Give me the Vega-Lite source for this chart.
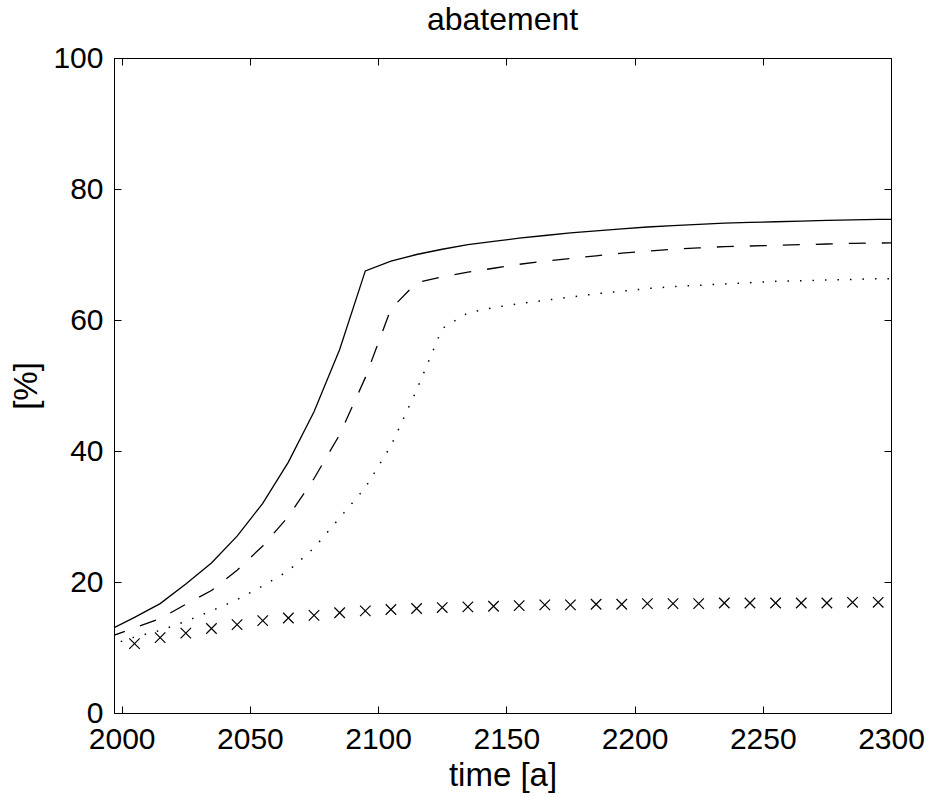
{
  "$schema": "https://vega.github.io/schema/vega-lite/v6.json",
  "width": 777,
  "height": 655,
  "autosize": "none",
  "padding": {"left": 114, "top": 58, "right": 41, "bottom": 84},
  "config": {
    "font": "Liberation Sans",
    "view": {"stroke": "black", "strokeWidth": 1},
    "axis": {
      "domainColor": "black", "tickColor": "black", "labelColor": "black", "titleColor": "black",
      "labelFont": "Liberation Sans", "titleFont": "Liberation Sans",
      "labelFontSize": 30, "titleFontSize": 33, "titleFontWeight": "normal",
      "grid": false, "tickSize": -7, "domainWidth": 1, "tickWidth": 1
    }
  },
  "title": {"text": "abatement", "fontSize": 32, "fontWeight": "normal", "font": "Liberation Sans", "color": "black", "baseline": "alphabetic", "frame": "group", "offset": 10, "dy": 29},
  "datasets": {
    "solid": [
      {"year": 1995, "value": 12.6}, {"year": 2005, "value": 14.6}, {"year": 2015, "value": 16.7}, {"year": 2025, "value": 19.7},
      {"year": 2035, "value": 22.9}, {"year": 2045, "value": 27.0}, {"year": 2055, "value": 32.0}, {"year": 2065, "value": 38.3},
      {"year": 2075, "value": 46.0}, {"year": 2085, "value": 55.5}, {"year": 2095, "value": 67.5}, {"year": 2105, "value": 69.0},
      {"year": 2115, "value": 70.0}, {"year": 2125, "value": 70.8}, {"year": 2135, "value": 71.5}, {"year": 2145, "value": 72.0},
      {"year": 2155, "value": 72.5}, {"year": 2165, "value": 72.9}, {"year": 2175, "value": 73.3}, {"year": 2185, "value": 73.6},
      {"year": 2195, "value": 73.9}, {"year": 2205, "value": 74.2}, {"year": 2215, "value": 74.4}, {"year": 2225, "value": 74.6},
      {"year": 2235, "value": 74.8}, {"year": 2245, "value": 74.9}, {"year": 2255, "value": 75.0}, {"year": 2265, "value": 75.1},
      {"year": 2275, "value": 75.2}, {"year": 2285, "value": 75.3}, {"year": 2295, "value": 75.35}, {"year": 2305, "value": 75.4}
    ],
    "dashed": [
      {"year": 1995, "value": 11.6}, {"year": 2005, "value": 13.0}, {"year": 2015, "value": 14.4}, {"year": 2025, "value": 16.6},
      {"year": 2035, "value": 18.7}, {"year": 2045, "value": 21.8}, {"year": 2055, "value": 25.5}, {"year": 2065, "value": 30.0},
      {"year": 2075, "value": 35.8}, {"year": 2085, "value": 42.5}, {"year": 2095, "value": 51.2}, {"year": 2105, "value": 61.7},
      {"year": 2115, "value": 65.7}, {"year": 2125, "value": 66.6}, {"year": 2135, "value": 67.3}, {"year": 2145, "value": 67.9},
      {"year": 2155, "value": 68.5}, {"year": 2165, "value": 69.0}, {"year": 2175, "value": 69.4}, {"year": 2185, "value": 69.8},
      {"year": 2195, "value": 70.2}, {"year": 2205, "value": 70.5}, {"year": 2215, "value": 70.8}, {"year": 2225, "value": 71.0},
      {"year": 2235, "value": 71.2}, {"year": 2245, "value": 71.3}, {"year": 2255, "value": 71.4}, {"year": 2265, "value": 71.5},
      {"year": 2275, "value": 71.6}, {"year": 2285, "value": 71.7}, {"year": 2295, "value": 71.75}, {"year": 2305, "value": 71.8}
    ],
    "dotted": [
      {"year": 1995, "value": 10.3}, {"year": 2005, "value": 11.6}, {"year": 2015, "value": 12.6}, {"year": 2025, "value": 14.0},
      {"year": 2035, "value": 15.6}, {"year": 2045, "value": 17.3}, {"year": 2055, "value": 19.4}, {"year": 2065, "value": 21.7},
      {"year": 2075, "value": 25.2}, {"year": 2085, "value": 29.8}, {"year": 2095, "value": 34.4}, {"year": 2105, "value": 40.8},
      {"year": 2115, "value": 49.3}, {"year": 2125, "value": 58.7}, {"year": 2135, "value": 61.1}, {"year": 2145, "value": 61.9},
      {"year": 2155, "value": 62.5}, {"year": 2165, "value": 63.0}, {"year": 2175, "value": 63.5}, {"year": 2185, "value": 64.0},
      {"year": 2195, "value": 64.4}, {"year": 2205, "value": 64.8}, {"year": 2215, "value": 65.1}, {"year": 2225, "value": 65.3},
      {"year": 2235, "value": 65.5}, {"year": 2245, "value": 65.7}, {"year": 2255, "value": 65.9}, {"year": 2265, "value": 66.0},
      {"year": 2275, "value": 66.1}, {"year": 2285, "value": 66.2}, {"year": 2295, "value": 66.3}, {"year": 2305, "value": 66.3}
    ],
    "crosses": [
      {"year": 2005, "value": 10.6}, {"year": 2015, "value": 11.5}, {"year": 2025, "value": 12.2}, {"year": 2035, "value": 12.9},
      {"year": 2045, "value": 13.5}, {"year": 2055, "value": 14.1}, {"year": 2065, "value": 14.5}, {"year": 2075, "value": 14.9},
      {"year": 2085, "value": 15.3}, {"year": 2095, "value": 15.6}, {"year": 2105, "value": 15.8}, {"year": 2115, "value": 15.95},
      {"year": 2125, "value": 16.1}, {"year": 2135, "value": 16.2}, {"year": 2145, "value": 16.3}, {"year": 2155, "value": 16.4},
      {"year": 2165, "value": 16.5}, {"year": 2175, "value": 16.5}, {"year": 2185, "value": 16.6}, {"year": 2195, "value": 16.6},
      {"year": 2205, "value": 16.7}, {"year": 2215, "value": 16.7}, {"year": 2225, "value": 16.7}, {"year": 2235, "value": 16.8},
      {"year": 2245, "value": 16.8}, {"year": 2255, "value": 16.8}, {"year": 2265, "value": 16.8}, {"year": 2275, "value": 16.8},
      {"year": 2285, "value": 16.9}, {"year": 2295, "value": 16.9}
    ]
  },
  "resolve": {"axis": {"x": "independent", "y": "independent"}},
  "layer": [
    {
      "data": {"name": "solid"},
      "mark": {"type": "line", "color": "black", "strokeWidth": 1.3, "clip": true},
      "encoding": {
        "x": {"field": "year", "type": "quantitative", "scale": {"domain": [1997, 2300], "nice": false, "zero": false},
              "axis": {"values": [2000, 2050, 2100, 2150, 2200, 2250, 2300], "format": "d", "labelFlush": false, "labelOverlap": false,
                       "labelPadding": 18, "title": "time [a]", "titlePadding": 5}},
        "y": {"field": "value", "type": "quantitative", "scale": {"domain": [0, 100], "nice": false},
              "axis": {"values": [0, 20, 40, 60, 80, 100], "labelPadding": 18, "labelFlush": false, "title": "[%]", "titlePadding": 9}}
      }
    },
    {
      "data": {"name": "dashed"},
      "mark": {"type": "line", "color": "black", "strokeWidth": 1.3, "strokeDash": [17, 16], "clip": true},
      "encoding": {
        "x": {"field": "year", "type": "quantitative",
              "axis": {"orient": "top", "values": [2000, 2050, 2100, 2150, 2200, 2250, 2300], "labels": false, "title": null}},
        "y": {"field": "value", "type": "quantitative",
              "axis": {"orient": "right", "values": [0, 20, 40, 60, 80, 100], "labels": false, "title": null}}
      }
    },
    {
      "data": {"name": "dotted"},
      "mark": {"type": "line", "color": "black", "strokeWidth": 1.5, "strokeDash": [1.5, 11], "clip": true},
      "encoding": {
        "x": {"field": "year", "type": "quantitative", "axis": null},
        "y": {"field": "value", "type": "quantitative", "axis": null}
      }
    },
    {
      "data": {"name": "crosses"},
      "mark": {"type": "point", "shape": "M-1,-1L1,1M-1,1L1,-1", "filled": false, "color": "black", "strokeWidth": 1.2, "size": 110, "opacity": 1},
      "encoding": {
        "x": {"field": "year", "type": "quantitative", "axis": null},
        "y": {"field": "value", "type": "quantitative", "axis": null}
      }
    }
  ]
}
